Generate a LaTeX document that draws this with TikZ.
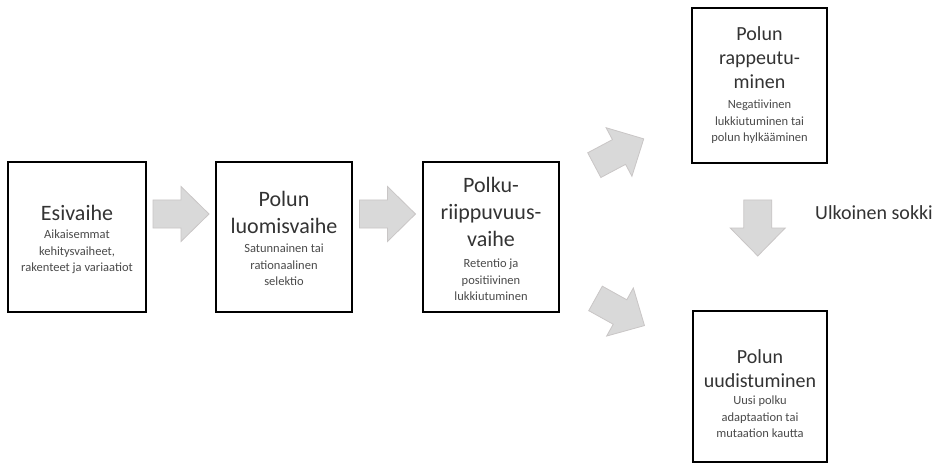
\documentclass[tikz,border=0pt]{standalone}
\usepackage{fontspec}
\setmainfont{Carlito}
\usetikzlibrary{calc}

\definecolor{arrowfill}{HTML}{D9D9D9}
\definecolor{arrowline}{HTML}{C9C6C6}
\definecolor{titlecol}{HTML}{333333}
\definecolor{subcol}{HTML}{4A4A4A}

\tikzset{
  stage/.style={draw=black, line width=2.2pt, fill=white, inner sep=0pt,
    minimum width=136pt, minimum height=150pt},
  ttl/.style={align=center, inner sep=0pt, text=titlecol,
    font=\fontsize{22}{27}\selectfont},
  ttlsmall/.style={ttl, font=\fontsize{20}{24}\selectfont},
  sub/.style={align=center, inner sep=0pt, text=subcol,
    font=\fontsize{12.5}{16.5}\selectfont},
  blockarrow/.pic={
    \path[fill=arrowfill, draw=arrowline, line width=0.8pt, line join=miter]
      (-28,-14) -- (0,-14) -- (0,-27.5) -- (28,0) -- (0,27.5) -- (0,14)
      -- (-28,14) -- cycle;
  }
}

\begin{document}
\begin{tikzpicture}[x=1pt, y=-1pt]
  \useasboundingbox[fill=white] (0,0) rectangle (934,465);

  % stage boxes
  \node[stage, minimum width=138pt] (b1) at (77,237) {};
  \node[stage] (b2) at (284,237) {};
  \node[stage] (b3) at (491,237) {};
  \node[stage, minimum width=135pt, minimum height=155pt] (b4) at (759.5,85.5) {};
  \node[stage, minimum width=134pt, minimum height=151pt] (b5) at (760,386.5) {};

  % texts of the stages (base = baseline of the last line)
  \node[ttl, anchor=base] (t1) at ($(b1.north)+(0,60)$) {Esivaihe};
  \node[sub, anchor=base] (s1) at ($(b1.north)+(0,111)$)
    {Aikaisemmat\\kehitysvaiheet,\\rakenteet ja variaatiot};

  \node[ttl, anchor=base] (t2) at ($(b2.north)+(0,73)$) {Polun\\luomisvaihe};
  \node[sub, anchor=base] (s2) at ($(b2.north)+(0,125)$)
    {Satunnainen tai\\rationaalinen\\selektio};

  \node[ttl, anchor=base] (t3) at ($(b3.north)+(0,86)$) {Polku-\\riippuvuus-\\vaihe};
  \node[sub, anchor=base] (s3) at ($(b3.north)+(0,140)$)
    {Retentio ja\\positiivinen\\lukkiutuminen};

  \node[ttlsmall, anchor=base] (t4) at ($(b4.north)+(0,82)$) {Polun\\rappeutu-\\minen};
  \node[sub, anchor=base] (s4) at ($(b4.north)+(0,135)$)
    {Negatiivinen\\lukkiutuminen tai\\polun hylkääminen};

  \node[ttlsmall, anchor=base] (t5) at ($(b5.north)+(0,78)$) {Polun\\uudistuminen};
  \node[sub, anchor=base] (s5) at ($(b5.north)+(0,128)$)
    {Uusi polku\\adaptaation tai\\mutaation kautta};

  % block arrows between the stages
  \pic at ($(b1.east)!0.5!(b2.west)+(0,-23)$) {blockarrow};
  \pic at ($(b2.east)!0.5!(b3.west)+(0,-23)$) {blockarrow};
  \pic[rotate=28] at (619,152) {blockarrow};
  \pic[rotate=-29] at (620,312) {blockarrow};
  \pic[rotate=-90] at ($(b4.south)!0.5!(b5.north)+(-2,-9)$) {blockarrow};

  \node[anchor=west, inner sep=0pt, text=titlecol,
    font=\fontsize{20}{24}\selectfont] (ext) at (815,213) {Ulkoinen sokki};
\end{tikzpicture}
\end{document}
